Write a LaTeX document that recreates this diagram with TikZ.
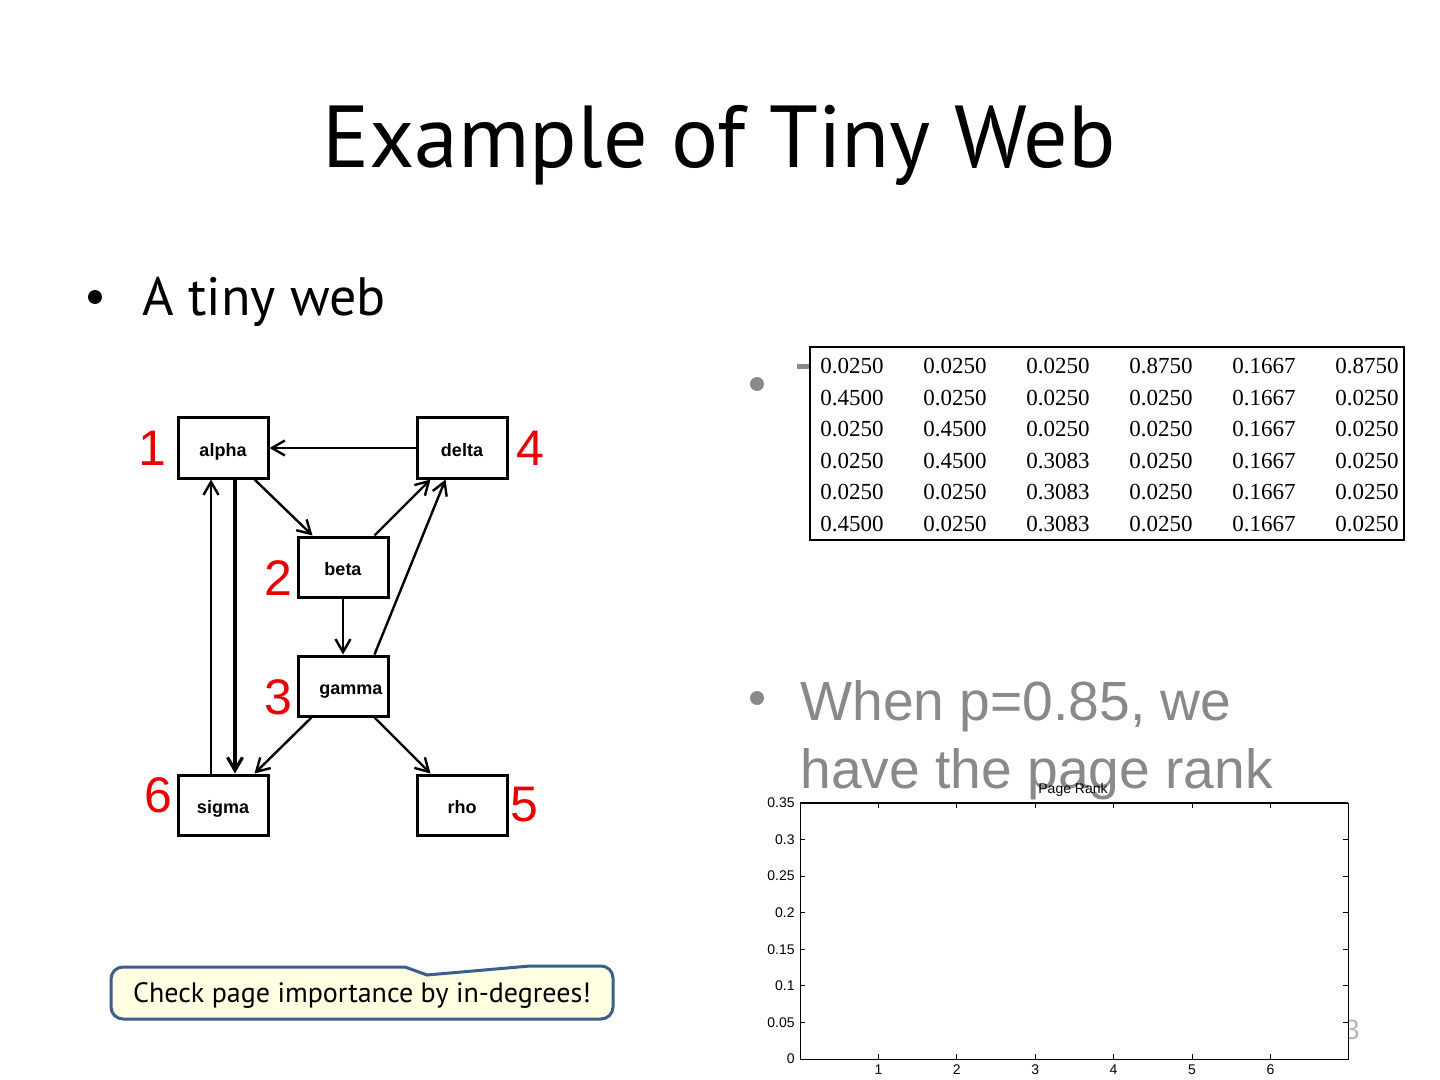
\documentclass[tikz,border=0pt]{standalone}
\usepackage{fontspec}
\setmainfont{Liberation Sans}
\newfontfamily\titlefont{PT Sans}
\newfontfamily\numfont{Liberation Serif}
\usetikzlibrary{positioning,arrows.meta,calc}
\definecolor{slidegray}{RGB}{137,137,137}
\definecolor{pagered}{RGB}{232,0,0}
\definecolor{noteblue}{RGB}{58,95,138}
\definecolor{noteyellow}{RGB}{255,255,226}

\tikzset{
  page/.style={draw,line width=1.5pt,minimum width=45pt,minimum height=30pt,inner sep=0pt,
    text height=8.5pt,text depth=0pt,font=\bfseries\fontsize{9}{10}\selectfont},
  pageno/.style={text=pagered,inner sep=0pt,font=\fontsize{25}{25}\selectfont},
  link/.style={line width=1.2pt,-{Straight Barb[length=6.5pt,width=7.5pt]}},
  cell/.style={anchor=west,inner sep=0pt,font=\numfont\fontsize{11.5}{12}\selectfont},
  ticklbl/.style={inner sep=1pt,font=\fontsize{7}{7}\selectfont},
}

\begin{document}
\begin{tikzpicture}[x=0.5pt,y=-0.5pt]
  \useasboundingbox[fill=white] (0,0) rectangle (1440,1080);

  % title and first bullet
  \node[anchor=base,font=\titlefont\fontsize{44}{44}\selectfont] (title) at (719,168) {Example of Tiny Web};
  \fill (95,297) circle (7);
  \node[anchor=base west,inner sep=0pt,font=\titlefont\fontsize{27}{27}\selectfont] (tiny) at (142,316) {A tiny web};

  % the web
  \node[page] (alpha) at (223,448) {alpha};
  \node[page] (delta) at (462,448) {delta};
  \node[page] (beta)  at (343,567) {beta};
  \node[page] (gamma) at (343,686) {\hspace{8pt}gamma};
  \node[page] (sigma) at (223,805) {sigma};
  \node[page] (rho)   at (462,805) {rho\hspace{6pt}};

  \node[pageno] (n1) at (152,448) {1};
  \node[pageno] (n2) at (278,578) {2};
  \node[pageno] (n3) at (278,697) {3};
  \node[pageno] (n4) at (530,448) {4};
  \node[pageno] (n5) at (524,805) {5};
  \node[pageno] (n6) at (158,795) {6};

  \draw[link] (delta.west) -- (alpha.east);
  \draw[link,line width=1.6pt] ([xshift=6pt]alpha.south) -- ([xshift=6pt]sigma.north);
  \draw[link] ([xshift=-6pt]sigma.north) -- ([xshift=-6pt]alpha.south);
  \draw[link] ([xshift=-7.5pt]alpha.south east) -- ([xshift=8pt]beta.north west);
  \draw[link] ([xshift=-7.5pt]beta.north east) -- ([xshift=7.5pt]delta.south west);
  \draw[link] ([xshift=-7.5pt]gamma.north east) -- ([xshift=15pt]delta.south west);
  \draw[link] (beta.south) -- (gamma.north);
  \draw[link] ([xshift=7.5pt]gamma.south west) -- ([xshift=-7.5pt]sigma.north east);
  \draw[link] ([xshift=-7.5pt]gamma.south east) -- ([xshift=7.5pt]rho.north west);

  % right column, gray text
  \fill[slidegray] (757,384) circle (7);
  \fill[slidegray] (797,364) rectangle (810,369);
  \fill[slidegray] (757,698) circle (7);
  \node[anchor=base west,inner sep=0pt,text=slidegray,font=\fontsize{27.6}{27.6}\selectfont] (when) at (800,720) {When p=0.85, we};
  \node[anchor=base west,inner sep=0pt,text=slidegray,font=\fontsize{27.6}{27.6}\selectfont] (have) at (800,788) {have the page rank};
  \node[text=slidegray!60,font=\fontsize{14}{14}\selectfont] (slideno) at (1352,1030) {3};

  % transition matrix
  \draw[fill=white,line width=0.6pt] (810,347) rectangle (1404,540);
  \foreach \row [count=\i] in {
      {0.0250,0.0250,0.0250,0.8750,0.1667,0.8750},
      {0.4500,0.0250,0.0250,0.0250,0.1667,0.0250},
      {0.0250,0.4500,0.0250,0.0250,0.1667,0.0250},
      {0.0250,0.4500,0.3083,0.0250,0.1667,0.0250},
      {0.0250,0.0250,0.3083,0.0250,0.1667,0.0250},
      {0.4500,0.0250,0.3083,0.0250,0.1667,0.0250}}
    \foreach \v [count=\j] in \row
      \node[cell] at (820+103*\j-103,334.5+31.6*\i) {\v};

  % page rank plot
  \fill[white] (800,803) rectangle (1348,1059);
  \draw[line width=0.5pt] (800,803) rectangle (1348,1059);
  \draw[line width=1.3pt] (800,803) -- (1348,803);
  \node[ticklbl,anchor=south,inner sep=0pt] (ptitle) at (1073,797) {Page Rank};
  \foreach \k/\t in {0/0,1/0.05,2/0.1,3/0.15,4/0.2,5/0.25,6/0.3,7/0.35} {
    \draw[line width=0.5pt] (800,1059-36.57*\k) -- ++(5,0);
    \draw[line width=0.5pt] (1348,1059-36.57*\k) -- ++(-5,0);
    \node[ticklbl,anchor=east] at (797,1059-36.57*\k) {\t};
  }
  \foreach \k in {1,...,6} {
    \draw[line width=0.5pt] (800+78.4*\k,1059) -- ++(0,-5);
    \draw[line width=0.5pt] (800+78.4*\k,803) -- ++(0,5);
    \node[ticklbl,anchor=north] at (800+78.4*\k,1062) {\k};
  }

  % callout
  \draw[noteblue,fill=noteyellow,line width=1.5pt]
    (111,993) [rounded corners=6] -- (111,967) [sharp corners] -- (405,967) -- (427,975)
    -- (530,966) [rounded corners=6] -- (613,966) -- (613,1019) -- (111,1019) -- cycle;
  \node[font=\titlefont\fontsize{14}{14}\selectfont] (note) at (362,995) {Check page importance by in-degrees!};
\end{tikzpicture}
\end{document}
